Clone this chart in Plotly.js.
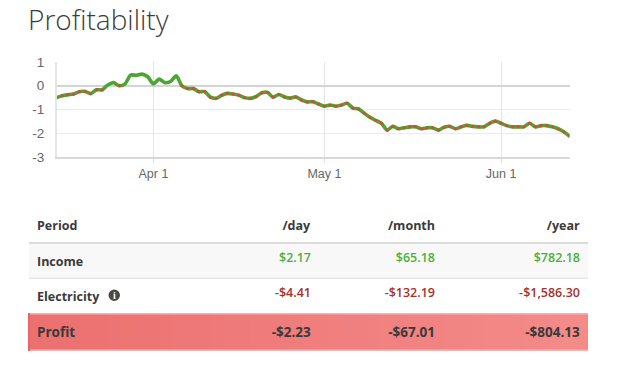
<!DOCTYPE html>
<html><head><meta charset="utf-8">
<script src="https://cdn.plot.ly/plotly-3.0.1.min.js"></script>
<style>html,body{margin:0;padding:0;background:#fff}#c{width:627px;height:376px}</style>
</head><body><div id="c"></div>
<script>
const startDate = '2019-03-15';
const profit = [-0.5,-0.42,-0.38,-0.35,-0.25,-0.24,-0.33,-0.17,-0.17,0.03,0.13,0.0,0.07,0.45,0.44,0.49,0.38,0.08,0.28,0.13,0.18,0.42,0.0,-0.12,-0.12,-0.25,-0.25,-0.48,-0.53,-0.4,-0.32,-0.35,-0.4,-0.5,-0.53,-0.46,-0.3,-0.28,-0.48,-0.37,-0.47,-0.52,-0.47,-0.6,-0.68,-0.67,-0.77,-0.86,-0.81,-0.86,-0.81,-0.74,-0.94,-0.98,-1.16,-1.33,-1.46,-1.58,-1.87,-1.71,-1.81,-1.77,-1.73,-1.73,-1.81,-1.77,-1.77,-1.87,-1.75,-1.71,-1.81,-1.73,-1.67,-1.71,-1.73,-1.73,-1.58,-1.49,-1.58,-1.68,-1.73,-1.73,-1.73,-1.58,-1.73,-1.68,-1.68,-1.73,-1.81,-1.94,-2.12];
const tickDates = ['2019-04-01','2019-05-01','2019-06-01'];
const tickLabels = ['Apr 1','May 1','Jun 1'];
const yTicks = [-3,-2,-1,0,1];
const headers = ['Period','/day','/month','/year'];
const rowNames = ['Income','Electricity','Profit'];
const perDay = ['$2.17','-$4.41','-$2.23'];
const perMonth = ['$65.18','-$132.19','-$67.01'];
const perYear = ['$782.18','-$1,586.30','-$804.13'];
const rowColors = ['#4caf3c','#a9302a','#3a3a3a'];

const W = 627, H = 376;
const px = v => v / W, py = v => 1 - v / H;
const dates = profit.map((_, i) => { const d = new Date(startDate + 'T00:00:00Z'); d.setUTCDate(d.getUTCDate() + i); return d.toISOString().slice(0, 10); });
const negative = profit.map(v => v <= 0 ? v : null);

const rect = (x0, x1, y0, y1, fillcolor, layer) => ({type:'rect', xref:'paper', yref:'paper', layer:layer || 'below', line:{width:0}, x0:px(x0), x1:px(x1), y0:py(y1), y1:py(y0), fillcolor});
const shapes = [];
const left = 29, right = 588, band = 13;
const lerp = (a, b, t) => Math.round(a + (b - a) * t);
for (let x = left; x < right; x += band) {
  const t = (x - left) / (right - left);
  shapes.push(rect(x, Math.min(x + band + 1, right), 314, 351,
    `rgb(${lerp(236,243,t)},${lerp(112,140,t)},${lerp(112,138,t)})`));
}
shapes.push(rect(29, 588, 313, 314.5, '#f2b4b4'));
shapes.push(rect(29, 588, 349.5, 351, '#f4b4b4'));
shapes.push(rect(28, 30, 313, 351, '#ee6468'));
shapes.push(rect(29, 588, 244, 278, '#f8f8f8'));
shapes.push(rect(29, 588, 242, 244, '#dcdcdc'));
shapes.push(rect(29, 588, 277.5, 279, '#e6e6e6'));
shapes.push({type:'circle', xref:'paper', yref:'paper', layer:'above', line:{width:0}, x0:px(108.5), x1:px(120), y0:py(301), y1:py(289.5), fillcolor:'#4a4a4a'});

const bold = a => a.map(s => '<b>' + s + '</b>');
const rowSizes = [12.5, 12.5, 13.5];
const data = [
 {type:'scatter', mode:'lines', x:dates, y:profit, line:{color:'#4aa62e', width:3.6, shape:'spline', smoothing:0.7}, hoverinfo:'skip', showlegend:false},
 {type:'scatter', mode:'markers', x:dates, y:negative, marker:{color:'#e0453c', size:3.2, line:{width:0}}, hoverinfo:'skip', showlegend:false},
 {type:'table', domain:{x:[px(29), px(588)], y:[py(355), py(209)]}, columnwidth:[155,135,124,145],
  header:{values:bold(headers).map(s => [s]), height:36, align:['left','right','right','right'],
    fill:{color:'rgba(0,0,0,0)'}, line:{width:0, color:'rgba(0,0,0,0)'}, font:{family:'"Open Sans"', size:12.5, color:'#3a3a3a'}},
  cells:{values:[bold(rowNames), [perDay[0],perDay[1],'<b>'+perDay[2]+'</b>'], [perMonth[0],perMonth[1],'<b>'+perMonth[2]+'</b>'], [perYear[0],perYear[1],'<b>'+perYear[2]+'</b>']],
    height:35, align:['left','right','right','right'], fill:{color:'rgba(0,0,0,0)'}, line:{width:0, color:'rgba(0,0,0,0)'},
    font:{family:'"Open Sans"', size:[rowSizes, rowSizes, rowSizes, rowSizes], weight:600, color:[['#3a3a3a','#3a3a3a','#3a3a3a'], rowColors, rowColors, rowColors]}}}
];
const layout = {
 width:W, height:H, margin:{l:0, r:0, t:0, b:0}, paper_bgcolor:'#fff', plot_bgcolor:'rgba(0,0,0,0)', showlegend:false,
 title:{text:'Profitability', x:px(28), xanchor:'left', xref:'paper', y:py(29.5), yanchor:'bottom', yref:'container', font:{family:'"Open Sans"', size:28, weight:300, color:'#3c3c3c'}},
 xaxis:{domain:[px(56.5), px(569.5)], type:'date', range:[dates[0], dates[dates.length-1]], tickvals:tickDates, ticktext:tickLabels, showgrid:true, gridcolor:'#e4e4e4', gridwidth:1, zeroline:false, showline:true, linecolor:'#d8d8d8', linewidth:1.5, ticks:'outside', ticklen:4, tickcolor:'#e0e0e0', tickfont:{family:'"Liberation Sans"', size:12.5, color:'#666'}, fixedrange:true},
 yaxis:{domain:[py(157), py(62)], range:[-3,1], tickvals:yTicks, ticktext:['-3','-2','-1','0','1'], showgrid:true, gridcolor:'#ececec', gridwidth:1.5, zeroline:true, zerolinecolor:'#d4d4d4', zerolinewidth:2, showline:true, linecolor:'#e4e4e4', linewidth:1.5, ticks:'', ticklabelstandoff:8, tickfont:{family:'"Liberation Sans"', size:13.5, color:'#666'}, fixedrange:true},
 shapes,
 annotations:[{text:'<b>i</b>', xref:'paper', yref:'paper', x:px(114.3), y:py(295.3), showarrow:false, xanchor:'center', yanchor:'middle', font:{family:'"Liberation Serif"', size:10, color:'#fff'}}]
};
Plotly.newPlot('c', data, layout, {displayModeBar:false, staticPlot:true});
</script></body></html>
